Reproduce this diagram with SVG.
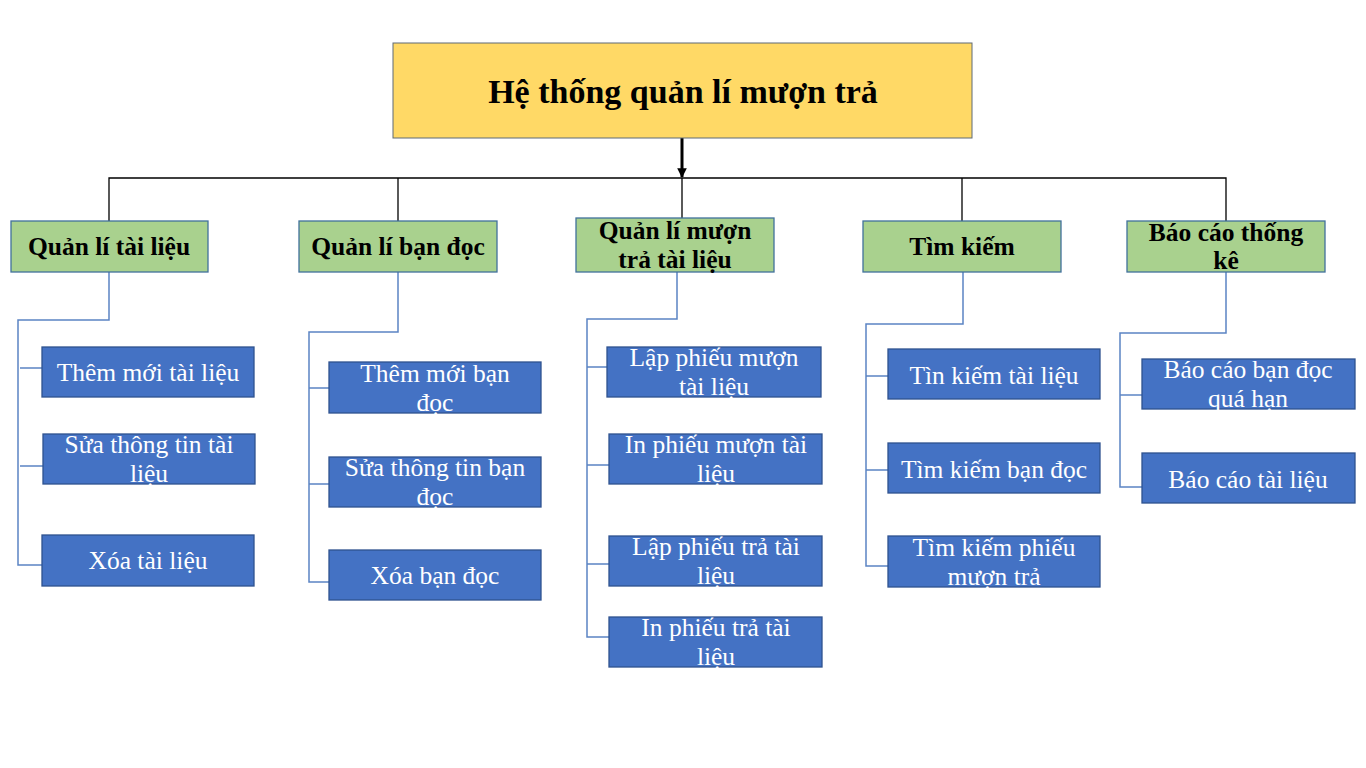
<svg xmlns="http://www.w3.org/2000/svg" width="1366" height="768" viewBox="0 0 1366 768">
<style>
.bg{fill:#ffffff}
.root{fill:#FFD966;stroke:#5E6A76;stroke-width:1}
.l1{fill:#A9D18E;stroke:#41719C;stroke-width:1.3}
.l2{fill:#4472C4;stroke:#2F528F;stroke-width:1.3}
.t0{font-family:"Liberation Serif","Times New Roman",serif;font-weight:bold;font-size:34px;fill:#000;text-anchor:middle}
.t1{font-family:"Liberation Serif","Times New Roman",serif;font-weight:bold;font-size:25.5px;fill:#000;text-anchor:middle}
.t2{font-family:"Liberation Serif","Times New Roman",serif;font-size:25.5px;fill:#fff;text-anchor:middle}
.blk{fill:none;stroke:#000;stroke-width:1.3}
.blu{fill:none;stroke:#5B84C4;stroke-width:1.5}
</style>
<defs>
<marker id="ah" viewBox="0 0 10 10" refX="9" refY="5" markerWidth="3.2" markerHeight="3.2" orient="auto" markerUnits="strokeWidth">
<path d="M0,0 L10,5 L0,10 z" fill="#000"/>
</marker>
</defs>
<rect class="bg" x="0" y="0" width="1366" height="768"/>

<g id="connectors">
<line x1="682" y1="138" x2="682" y2="177" stroke="#000" stroke-width="3" marker-end="url(#ah)"/>
<path class="blk" d="M109,221 V178 H1226 V221"/>
<line class="blk" x1="398" y1="178" x2="398" y2="221"/>
<line class="blk" x1="682" y1="178" x2="682" y2="218"/>
<line class="blk" x1="962" y1="178" x2="962" y2="221"/>
<path class="blu" d="M109,272 V320 H18 V565 H42"/>
<path class="blu" d="M20,368 H42 M20,466 H43"/>
<path class="blu" d="M398,272 V332 H309 V582 H329"/>
<path class="blu" d="M309,388 H329 M309,484 H329"/>
<path class="blu" d="M677,272 V319 H587 V637 H609"/>
<path class="blu" d="M587,367 H607 M587,465 H609 M587,564 H609"/>
<path class="blu" d="M963,272 V324 H866 V566 H888"/>
<path class="blu" d="M866,376 H888 M866,470 H888"/>
<path class="blu" d="M1226,272 V333 H1120 V487 H1142"/>
<path class="blu" d="M1120,395 H1142"/>
</g>

<g id="root">
<rect class="root" x="393" y="43" width="579" height="95"/>
<text class="t0" x="683" y="103">Hệ thống quản lí mượn trả</text>
</g>

<g id="n1">
<rect class="l1" x="11" y="221" width="197" height="51"/>
<text class="t1" x="109" y="255">Quản lí tài liệu</text>
</g>
<g id="n2">
<rect class="l1" x="299" y="221" width="198" height="51"/>
<text class="t1" x="398" y="255">Quản lí bạn đọc</text>
</g>
<g id="n3">
<rect class="l1" x="576" y="218" width="198" height="54"/>
<text class="t1" x="675" y="239">Quản lí mượn</text>
<text class="t1" x="675" y="268">trả tài liệu</text>
</g>
<g id="n4">
<rect class="l1" x="863" y="221" width="198" height="51"/>
<text class="t1" x="962" y="255">Tìm kiếm</text>
</g>
<g id="n5">
<rect class="l1" x="1127" y="221" width="198" height="51"/>
<text class="t1" x="1226" y="241">Báo cáo thống</text>
<text class="t1" x="1226" y="269">kê</text>
</g>

<g id="n1a">
<rect class="l2" x="42" y="347" width="212" height="50"/>
<text class="t2" x="148" y="381">Thêm mới tài liệu</text>
</g>
<g id="n1b">
<rect class="l2" x="43" y="434" width="212" height="50"/>
<text class="t2" x="149" y="453">Sửa thông tin tài</text>
<text class="t2" x="149" y="482">liệu</text>
</g>
<g id="n1c">
<rect class="l2" x="42" y="535" width="212" height="51"/>
<text class="t2" x="148" y="569">Xóa tài liệu</text>
</g>

<g id="n2a">
<rect class="l2" x="329" y="362" width="212" height="51"/>
<text class="t2" x="435" y="382">Thêm mới bạn</text>
<text class="t2" x="435" y="411">đọc</text>
</g>
<g id="n2b">
<rect class="l2" x="329" y="457" width="212" height="50"/>
<text class="t2" x="435" y="476">Sửa thông tin bạn</text>
<text class="t2" x="435" y="505">đọc</text>
</g>
<g id="n2c">
<rect class="l2" x="329" y="550" width="212" height="50"/>
<text class="t2" x="435" y="584">Xóa bạn đọc</text>
</g>

<g id="n3a">
<rect class="l2" x="607" y="347" width="214" height="50"/>
<text class="t2" x="714" y="366">Lập phiếu mượn</text>
<text class="t2" x="714" y="395">tài liệu</text>
</g>
<g id="n3b">
<rect class="l2" x="609" y="434" width="213" height="50"/>
<text class="t2" x="716" y="453">In phiếu mượn tài</text>
<text class="t2" x="716" y="482">liệu</text>
</g>
<g id="n3c">
<rect class="l2" x="609" y="536" width="213" height="50"/>
<text class="t2" x="716" y="555">Lập phiếu trả tài</text>
<text class="t2" x="716" y="584">liệu</text>
</g>
<g id="n3d">
<rect class="l2" x="609" y="617" width="213" height="50"/>
<text class="t2" x="716" y="636">In phiếu trả tài</text>
<text class="t2" x="716" y="665">liệu</text>
</g>

<g id="n4a">
<rect class="l2" x="888" y="349" width="212" height="50"/>
<text class="t2" x="994" y="384">Tìn kiếm tài liệu</text>
</g>
<g id="n4b">
<rect class="l2" x="888" y="443" width="212" height="50"/>
<text class="t2" x="994" y="478">Tìm kiếm bạn đọc</text>
</g>
<g id="n4c">
<rect class="l2" x="888" y="536" width="212" height="51"/>
<text class="t2" x="994" y="556">Tìm kiếm phiếu</text>
<text class="t2" x="994" y="585">mượn trả</text>
</g>

<g id="n5a">
<rect class="l2" x="1142" y="359" width="213" height="50"/>
<text class="t2" x="1248" y="378">Báo cáo bạn đọc</text>
<text class="t2" x="1248" y="407">quá hạn</text>
</g>
<g id="n5b">
<rect class="l2" x="1142" y="453" width="213" height="50"/>
<text class="t2" x="1248" y="488">Báo cáo tài liệu</text>
</g>
</svg>
